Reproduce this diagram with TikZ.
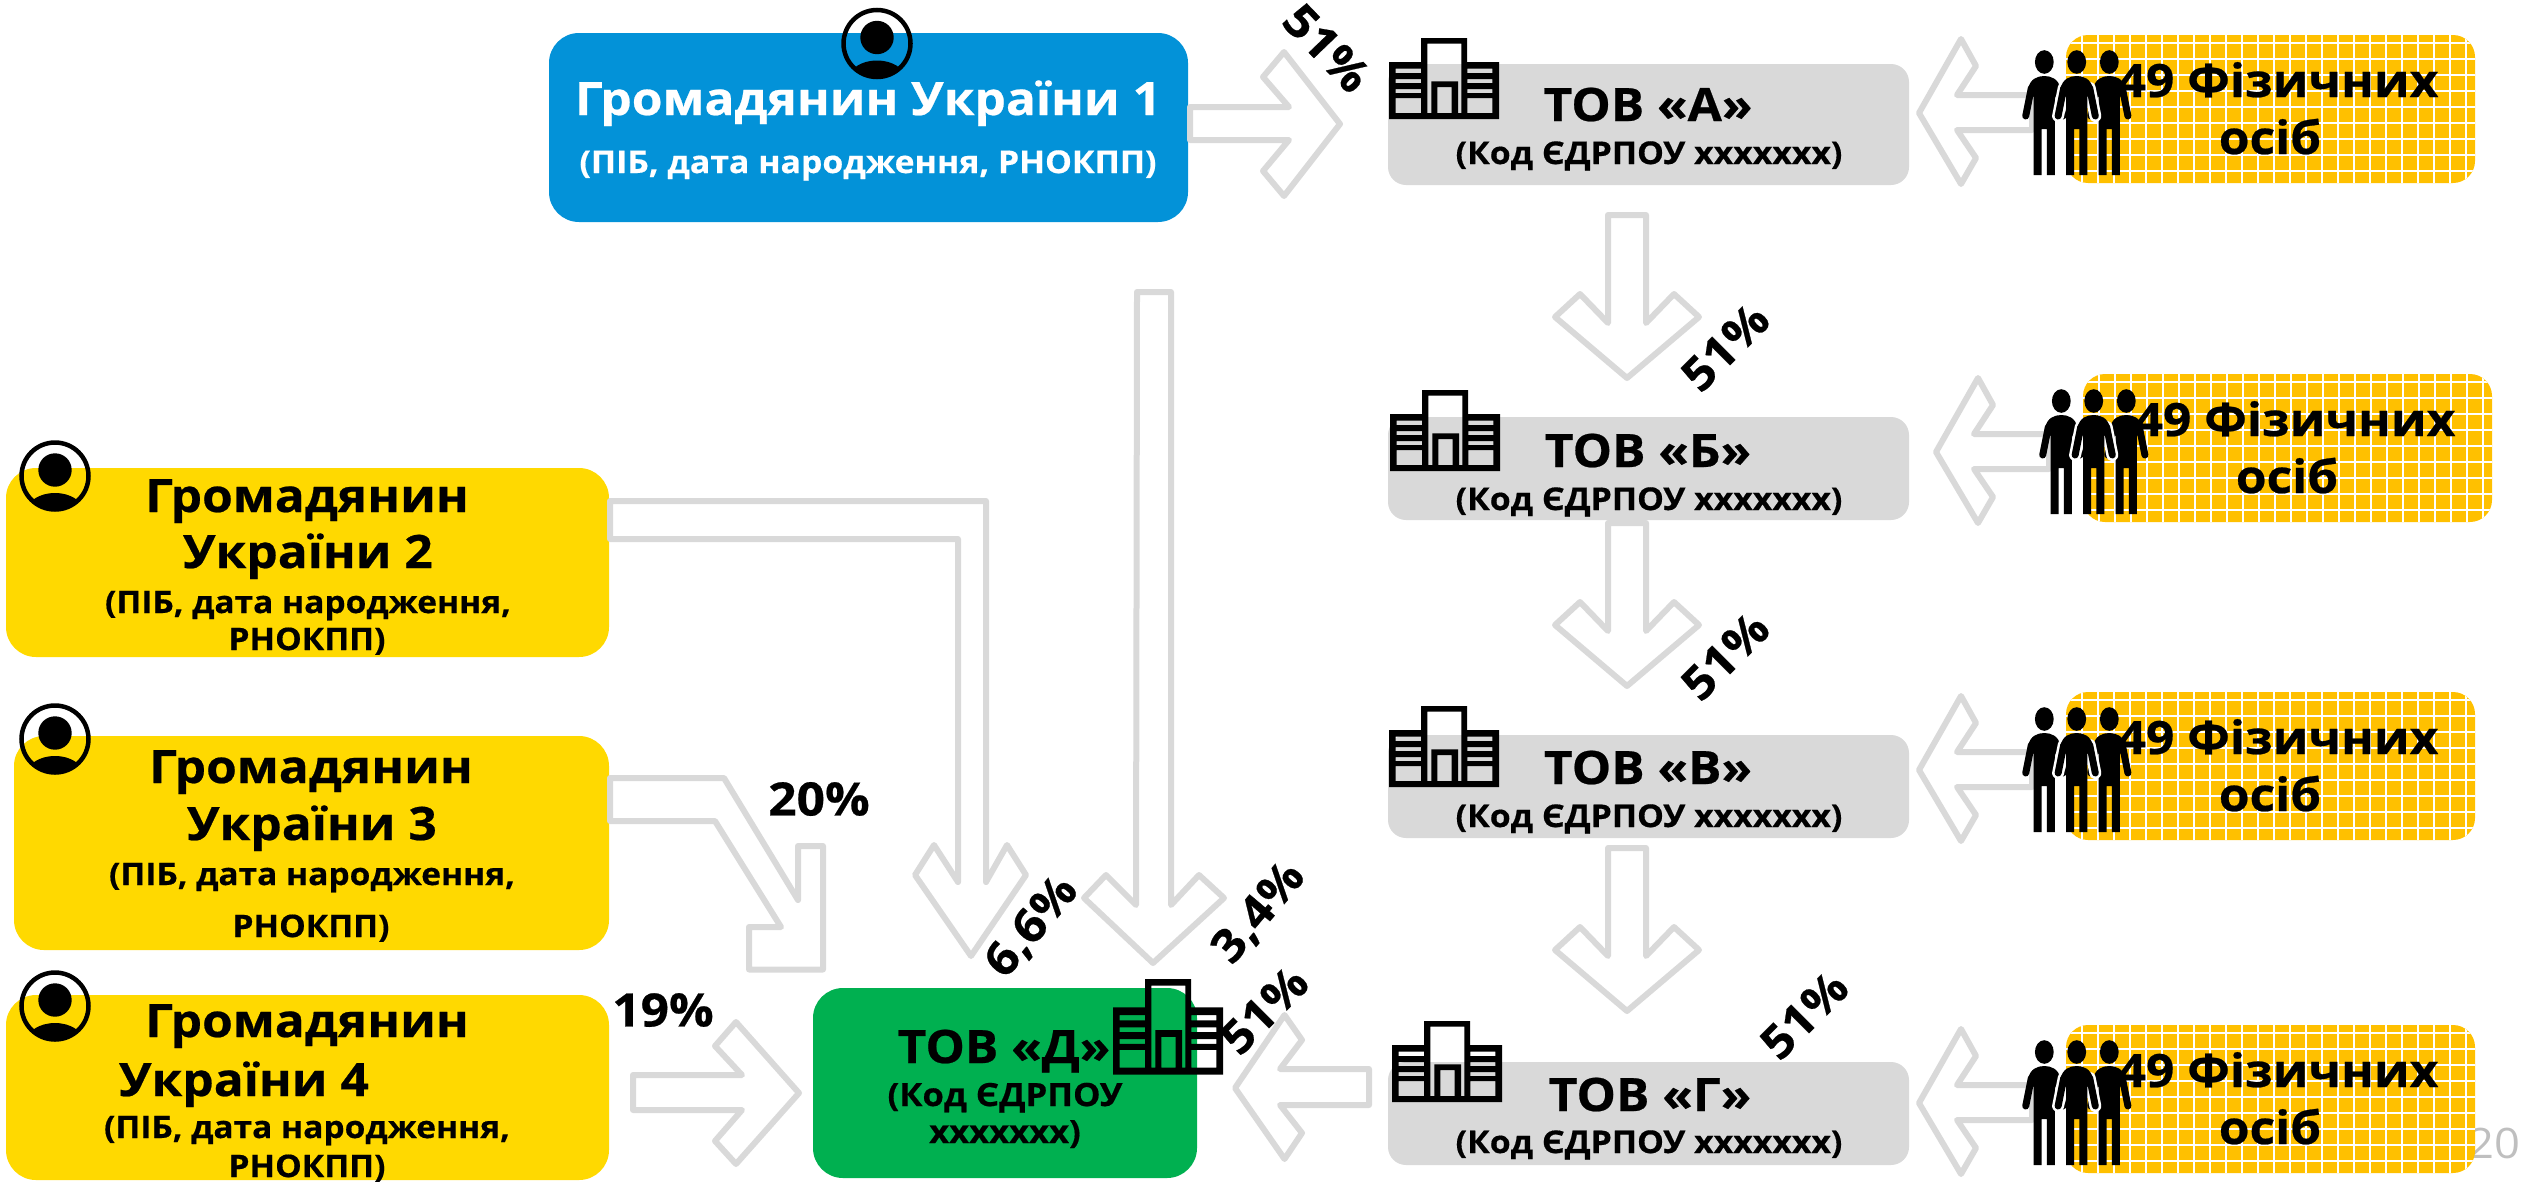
\documentclass[tikz,border=0pt]{standalone}
\usepackage{fontspec}
\setmainfont{Open Sans}
\newfontfamily\mf{Open Sans}[FakeStretch=1.08,BoldFeatures={FakeBold=0.5}]
\newcommand\ft[1]{\fontsize{#1pt}{#1pt}\selectfont\mf\bfseries}
\definecolor{cblue}{HTML}{0392D8}
\definecolor{cyel}{HTML}{FFD900}
\definecolor{cgrn}{HTML}{00B050}
\definecolor{cgray}{HTML}{D9D9D9}
\definecolor{cgrid}{HTML}{FFC000}
\definecolor{cpage}{HTML}{BFBFBF}
\tikzset{
  box/.style={anchor=north west,inner sep=0pt,outer sep=0pt,rounded corners=#1},
  box/.default=30pt,
  lbl/.style={anchor=base,inner sep=0pt,outer sep=0pt,text=black,align=center},
  blockarr/.style={draw=cgray,line width=6pt,line join=round,fill=none},
}
\newcommand\building[3]{%
  \begin{scope}[shift={(#1,#2)},yscale=#3]
  \fill[black,even odd rule]
    (0,24)--(32,24)--(32,0)--(78,0)--(78,24)--(110,24)--(110,81)--(0,81)--cycle
    (38.3,5.7)--(72.3,5.7)--(72.3,75)--(69,75)--(69,43.3)--(42.3,43.3)--(42.3,75)--(38.3,75)--cycle
    (48.3,49) rectangle (62.7,75)
    (6.7,30.7) rectangle (32,35) (6.7,41) rectangle (32,45) (6.7,51) rectangle (32,55) (6.7,60) rectangle (32,75)
    (78.3,30.7) rectangle (103.3,35) (78.3,41) rectangle (103.3,45) (78.3,51) rectangle (103.3,55) (78.3,60) rectangle (103.3,75);
  \end{scope}}
\newcommand\citizen[2]{%
  \begin{scope}[shift={(#1,#2)}]
    \begin{scope}
      \clip (0,0) circle (34pt);
      \fill[black] (0,35) ellipse (28pt and 18pt);
    \end{scope}
    \fill[black] (0,-6) circle (16.7pt);
    \draw[black,line width=4.5pt] (0,0) circle (33.5pt);
  \end{scope}}
\newcommand\figbody[1]{%
  \begin{scope}[shift={(#1,0)}]
    \fill[black] (0,62) ellipse (9.4pt and 11.8pt);
    \fill[black] (-10.6,175)--(-10.6,96)--(-14,100)--(-16,88) .. controls (-14,79) and (-7,76) .. (0,76)
       .. controls (7,76) and (14,79) .. (16,88)--(14,100)--(10.6,96)--(10.6,175)--(2.6,175)--(2.6,129)--(-2.6,129)--(-2.6,175)--cycle;
    \draw[black,line width=7pt,line cap=round] (-13,88)--(-18.6,116) (13,88)--(18.6,116);
  \end{scope}}
\newcommand\figgroup{%
  \figbody{2044.3}\figbody{2109.3}%
  \draw[white,line width=12pt,line cap=round] (2063.7,88)--(2058.1,116) (2089.7,88)--(2095.3,116);
  \figbody{2076.7}}
\newcommand\owners[3]{%
  \begin{scope}[shift={(#1,#2)}]
    \draw[blockarr] (2032,95)--(1957,95)--(1976,66)--(1961,39)--(1919,113)--(1961,184)--(1976,158)--(1957,130)--(2032,130)--cycle;
    \node (grid#3) [box=22pt,fill=cgrid,minimum width=409pt,minimum height=148pt] at (2066,35) {};
    \begin{scope}
      \clip[rounded corners=22pt] (2066,35) rectangle (2475,183);
      \foreach \i in {0,...,24} \draw[white,line width=2.2pt] (2081.6+16*\i,35)--(2081.6+16*\i,183);
      \foreach \k in {0,...,8} \draw[white,line width=2.2pt] (2066,43.3+16*\k)--(2475,43.3+16*\k);
    \end{scope}
    \figgroup
    \node (nA#3) [lbl,font=\ft{46}] at (2278,97) {49 Фізичних};
    \node (nB#3) [lbl,font=\ft{46}] at (2270,154) {осіб};
  \end{scope}}
\newcommand\tov[6]{% name, height, top, title base, sub base, title x
  \node (#1) [box=18pt,fill=cgray,minimum width=521pt,minimum height=#2pt] at (1388,#3) {};
  \node (#1t) [lbl,font=\ft{46}] at (#6,#4) {ТОВ «#1»};
  \node (#1s) [lbl,font=\ft{31.3}] at (1649,#5) {(Код ЄДРПОУ xxxxxxx)};}
\begin{document}
\begin{tikzpicture}[x=1pt,y=-1pt]
\useasboundingbox (0,0) rectangle (2526,1181);
\node (page) [lbl,text=cpage,font=\fontsize{42pt}{42pt}\selectfont\mf] at (2494,1158) {20};
% boxes
\node (blue) [box,fill=cblue,minimum width=639pt,minimum height=189pt] at (549,33) {};
\node (yelB) [box,fill=cyel,minimum width=603pt,minimum height=189pt] at (6,468) {};
\node (yelC) [box,fill=cyel,minimum width=595pt,minimum height=214pt] at (14,736) {};
\node (yelD) [box,fill=cyel,minimum width=603pt,minimum height=185pt] at (6,995) {};
\node (grn) [box,fill=cgrn,minimum width=384pt,minimum height=190pt] at (813,988) {};
\tov{А}{121}{64}{121}{164}{1648}
\tov{Б}{103}{417}{467}{510}{1648}
\tov{В}{103}{735}{784}{827}{1648}
\tov{Г}{103}{1062}{1111}{1153}{1650}
% block arrows
\draw[blockarr] (1190,107)--(1289,107)--(1263,77)--(1284,52)--(1340,124)--(1284,196)--(1263,171)--(1289,140)--(1190,140)--cycle;
\draw[blockarr] (1608,215)--(1646,215)--(1646,323)--(1674,294)--(1699,317)--(1627,378)--(1555,317)--(1580,294)--(1608,323)--cycle;
\draw[blockarr] (1608,523)--(1646,523)--(1646,631)--(1674,602)--(1699,625)--(1627,686)--(1555,625)--(1580,602)--(1608,631)--cycle;
\draw[blockarr] (1608,848)--(1646,848)--(1646,956)--(1674,927)--(1699,950)--(1627,1011)--(1555,950)--(1580,927)--(1608,956)--cycle;
\draw[blockarr] (610,501)--(986,501)--(986,882)--(1007,845)--(1026,875)--(971,956)--(915,875)--(934,845)--(958,882)--(958,539)--(610,539)--cycle;
\draw[blockarr] (1137,292)--(1171,292)--(1171,905)--(1199,875)--(1224,898)--(1153,963)--(1084,898)--(1106,875)--(1136,905)--cycle;
\draw[blockarr] (610,778)--(724,778)--(798,900)--(798,846)--(823,846)--(823,969.5)--(749,969.5)--(749,927)--(781,927)--(715,821)--(610,821)--cycle;
\draw[blockarr] (633,1075)--(742,1075)--(715,1046)--(736,1022)--(799,1093)--(736,1164)--(715,1141)--(742,1110)--(633,1110)--cycle;
\draw[blockarr] (1369,1069)--(1280,1069)--(1302,1040)--(1284.5,1015)--(1235,1088)--(1284.5,1159)--(1302,1133)--(1280,1105)--(1369,1105)--cycle;
% individuals
\owners{0}{0}{1}
\owners{17}{339}{2}
\owners{0}{657}{3}
\owners{0}{990}{4}
% buildings and citizens
\building{1389}{38}{1}
\building{1390}{390}{1}
\building{1389}{706}{1}
\building{1392}{1021}{1}
\building{1113}{979}{1.18}
\citizen{877}{43.5}
\citizen{55}{476}
\citizen{55}{739}
\citizen{55}{1006}
% box texts
\node (b1) [lbl,text=white,font=\ft{46}] at (868,115) {Громадянин України 1};
\node (b2) [lbl,text=white,font=\ft{31.3}] at (868,173) {(ПІБ, дата народження, РНОКПП)};
\node (c1) [lbl,font=\ft{46}] at (307,512) {Громадянин};
\node (c2) [lbl,font=\ft{46}] at (308,568) {України 2};
\node (c3) [lbl,font=\ft{31}] at (308,613) {(ПІБ, дата народження,};
\node (c4) [lbl,font=\ft{31}] at (307,650) {РНОКПП)};
\node (d1) [lbl,font=\ft{46}] at (311,783) {Громадянин};
\node (d2) [lbl,font=\ft{46}] at (312,840) {України 3};
\node (d3) [lbl,font=\ft{31}] at (312,885) {(ПІБ, дата народження,};
\node (d4) [lbl,font=\ft{31}] at (311,937) {РНОКПП)};
\node (e1) [lbl,font=\ft{46}] at (307,1037) {Громадянин};
\node (e2) [lbl,font=\ft{46}] at (244,1096) {України 4};
\node (e3) [lbl,font=\ft{31}] at (307,1138) {(ПІБ, дата народження,};
\node (e4) [lbl,font=\ft{31}] at (307,1177) {РНОКПП)};
\node (g1) [lbl,font=\ft{46}] at (1004,1063) {ТОВ «Д»};
\node (g2) [lbl,font=\ft{32}] at (1005,1106) {(Код ЄДРПОУ};
\node (g3) [lbl,font=\ft{32}] at (1005,1143) {xxxxxxx)};
% percentages
\tikzset{pct/.style={anchor=center,inner sep=0pt,outer sep=0pt,text=black,font=\ft{46}}}
\node (p1) [pct,rotate=-46] at (1327,48) {51\%};
\node (p2) [pct,rotate=45] at (1725,347) {51\%};
\node (p3) [pct,rotate=45] at (1725,656) {51\%};
\node (p4) [pct,rotate=45] at (1804,1015) {51\%};
\node (p5) [pct,rotate=45] at (1264,1010) {51\%};
\node (p6) [pct,rotate=50] at (1032,927) {6,6\%};
\node (p7) [pct,rotate=50] at (1259,913) {3,4\%};
\node (p8) [pct] at (819,799) {20\%};
\node (p9) [pct] at (663,1010) {19\%};
\end{tikzpicture}
\end{document}
